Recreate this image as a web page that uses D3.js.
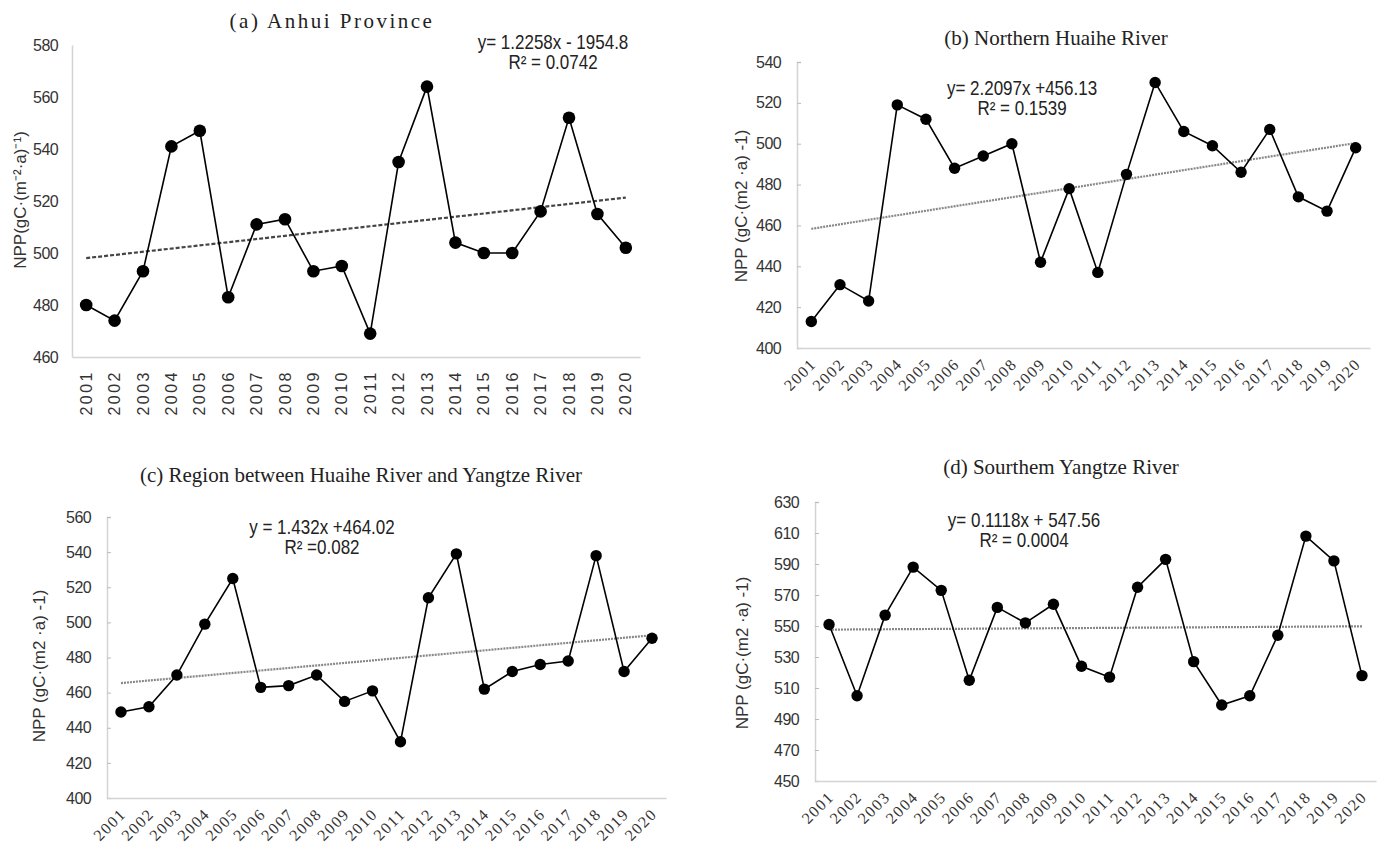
<!DOCTYPE html>
<html>
<head>
<meta charset="utf-8">
<script src="https://cdn.jsdelivr.net/npm/d3@7"></script>
<style>
  body { margin: 0; background: #fff; }
  svg { display: block; }
</style>
</head>
<body>
<div id="chart"></div>
<script>
// categories
var years = [2001,2002,2003,2004,2005,2006,2007,2008,2009,2010,
             2011,2012,2013,2014,2015,2016,2017,2018,2019,2020];

// NPP series
var nppAnhui   = [480,474,493,541,547,483,511,513,493,495,469,535,564,504,500,500,516,552,515,502];
var nppNorth   = [413,431,423,519,512,488,494,500,442,478,437,485,530,506,499,486,507,474,467,498];
var nppBetween = [449,452,470,499,525,463,464,470,455,461,432,514,539,462,472,476,478,538,472,491];
var nppSouth   = [551,505,557,588,573,515,562,552,564,524,517,575,593,527,499,505,544,608,592,518];

// y tick labels
var ticksAnhui   = [460,480,500,520,540,560,580];
var ticksNorth   = [400,420,440,460,480,500,520,540];
var ticksBetween = [400,420,440,460,480,500,520,540,560];
var ticksSouth   = [450,470,490,510,530,550,570,590,610,630];

// trend lines (as printed on the chart)
var trendSlope     = [1.2258, 2.2097, 1.432, 0.1118];
var trendIntercept = [-1954.8, 456.13, 464.02, 547.56];
var trendUsesYear  = [true, false, false, false];

var titles = ["(a) Anhui Province", "(b) Northern Huaihe River",
              "(c) Region between Huaihe River and Yangtze River", "(d) Sourthem Yangtze River"];
var eqLines = [["y= 1.2258x - 1954.8", "R\u00b2 = 0.0742"],
               ["y= 2.2097x +456.13", "R\u00b2 = 0.1539"],
               ["y = 1.432x +464.02", "R\u00b2 =0.082"],
               ["y= 0.1118x + 547.56", "R\u00b2 = 0.0004"]];
var yLabels = ["NPP(gC\u00b7(m\u207b\u00b2\u00b7a)\u207b\u00b9)", "NPP (gC\u00b7(m2 \u00b7a) -1)",
               "NPP (gC\u00b7(m2 \u00b7a) -1)", "NPP (gC\u00b7(m2 \u00b7a) -1)"];

var W = 1380, H = 850;
var sans = "'Liberation Sans', Arial, sans-serif";
var serif = "'Liberation Serif', 'Times New Roman', serif";

var svg = d3.select("#chart").append("svg")
  .attr("width", W).attr("height", H)
  .attr("viewBox", "0 0 " + W + " " + H);

var panels = [
  {vals: nppAnhui, ticks: ticksAnhui, x0: 72, x1: 640, yTop: 45, yBot: 357,
   titleX: 332, titleY: 28, titleSpacing: 2.5, eqX: 553, eqY: 49,
   labX: 20, labY: 200, vertical: true, r: 6.3, trendDash: "4,2", trendColor: "#444", ticksIn: false},
  {vals: nppNorth, ticks: ticksNorth, x0: 797, x1: 1370, yTop: 62, yBot: 348,
   titleX: 1056, titleY: 45, titleSpacing: 0, eqX: 1022, eqY: 95,
   labX: 741, labY: 206, vertical: false, r: 5.7, trendDash: "2,1", trendColor: "#888", ticksIn: true},
  {vals: nppBetween, ticks: ticksBetween, x0: 107, x1: 666, yTop: 517, yBot: 798,
   titleX: 361, titleY: 482, titleSpacing: 0, eqX: 322, eqY: 534,
   labX: 39, labY: 666, vertical: false, r: 5.7, trendDash: "2,1", trendColor: "#888", ticksIn: true},
  {vals: nppSouth, ticks: ticksSouth, x0: 815, x1: 1376, yTop: 502, yBot: 781,
   titleX: 1061, titleY: 474, titleSpacing: 0, eqX: 1024, eqY: 527,
   labX: 742, labY: 653, vertical: false, r: 5.7, trendDash: "2,1", trendColor: "#888", ticksIn: true}
];

panels.forEach(function (p, i) {
  var g = svg.append("g");
  var x = d3.scaleBand().domain(years).range([p.x0, p.x1]);
  var y = d3.scaleLinear().domain([p.ticks[0], p.ticks[p.ticks.length - 1]]).range([p.yBot, p.yTop]);
  var cx = function (d, j) { return x(years[j]) + x.bandwidth() / 2; };

  // y axis
  var ya = g.append("g").attr("transform", "translate(" + p.x0 + ",0)")
    .call(d3.axisLeft(y).tickValues(p.ticks).tickSize(p.ticksIn ? -4 : 0).tickPadding(p.ticksIn ? 16 : 14));
  ya.select(".domain").attr("stroke", "#d4d4d4").attr("stroke-width", 1.5);
  ya.selectAll(".tick line").attr("stroke", "#bbb");
  ya.selectAll(".tick text").attr("font-family", sans).attr("font-size", 16).attr("fill", "#333")
    .attr("letter-spacing", -0.6);

  // x axis
  var xa = g.append("g").attr("transform", "translate(0," + p.yBot + ")")
    .call(d3.axisBottom(x).tickSize(0).tickPadding(0));
  xa.select(".domain").attr("stroke", "#d4d4d4").attr("stroke-width", 1.5);
  if (p.vertical) {
    xa.selectAll(".tick text")
      .attr("font-family", sans).attr("font-size", 16).attr("letter-spacing", 2.5).attr("fill", "#333")
      .attr("text-anchor", "end").attr("dy", "0.35em")
      .attr("transform", "translate(0,13) rotate(-90)").attr("y", 0);
  } else {
    xa.selectAll(".tick text")
      .attr("font-family", serif).attr("font-size", 16).attr("letter-spacing", 1.5).attr("fill", "#333")
      .attr("text-anchor", "end").attr("dy", 0).attr("y", 0)
      .attr("transform", "translate(6,17) rotate(-45)");
  }

  // trend line
  var trend = function (j) {
    var xv = trendUsesYear[i] ? years[j] : j + 1;
    return trendSlope[i] * xv + trendIntercept[i];
  };
  g.append("line")
    .attr("x1", cx(null, 0)).attr("y1", y(trend(0)))
    .attr("x2", cx(null, years.length - 1)).attr("y2", y(trend(years.length - 1)))
    .attr("stroke", p.trendColor).attr("stroke-width", 2.2)
    .attr("stroke-dasharray", p.trendDash);

  // series line and markers
  g.append("path").datum(p.vals)
    .attr("fill", "none").attr("stroke", "#000").attr("stroke-width", 1.6)
    .attr("d", d3.line().x(cx).y(function (d) { return y(d); }));
  g.selectAll("circle").data(p.vals).enter().append("circle")
    .attr("cx", cx).attr("cy", function (d) { return y(d); })
    .attr("r", p.r).attr("fill", "#000");

  // title
  g.append("text").attr("x", p.titleX).attr("y", p.titleY)
    .attr("text-anchor", "middle").attr("font-family", serif).attr("font-size", 21)
    .attr("letter-spacing", p.titleSpacing).attr("fill", "#222").text(titles[i]);

  // equation (condensed look)
  eqLines[i].forEach(function (t, k) {
    g.append("text")
      .attr("transform", "translate(" + p.eqX + "," + (p.eqY + k * 20) + ") scale(0.85,1)")
      .attr("text-anchor", "middle").attr("font-family", sans).attr("font-size", 20)
      .attr("fill", "#222").text(t);
  });

  // y label
  g.append("text").attr("transform", "translate(" + p.labX + "," + p.labY + ") rotate(-90)")
    .attr("text-anchor", "middle").attr("dy", "0.35em")
    .attr("font-family", sans).attr("font-size", 17).attr("fill", "#333").text(yLabels[i]);
});
</script>
</body>
</html>
